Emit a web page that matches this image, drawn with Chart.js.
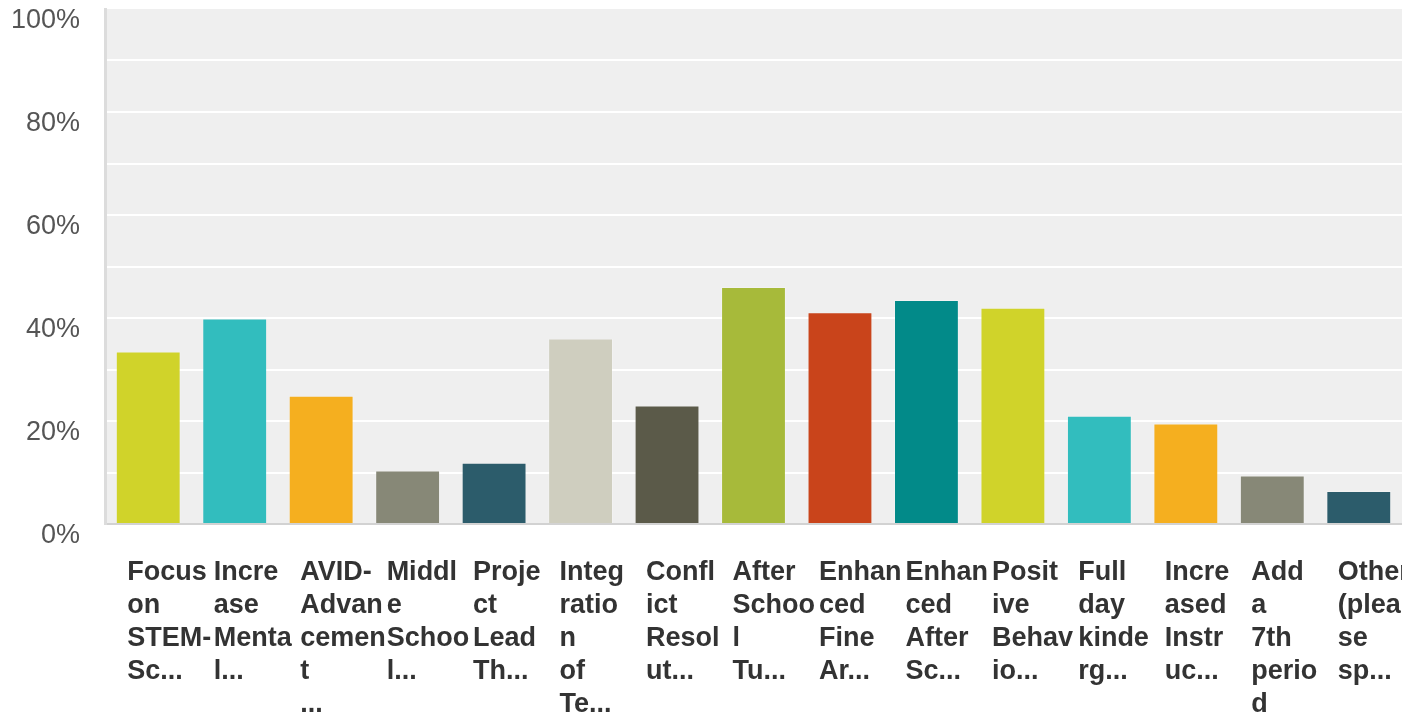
<!DOCTYPE html>
<html>
<head>
<meta charset="utf-8">
<script src="https://cdn.jsdelivr.net/npm/chart.js@4.4.0/dist/chart.umd.min.js"></script>
<style>
  html, body { margin: 0; padding: 0; background: #ffffff; }
  #wrap { position: relative; width: 1402px; height: 716px; }
</style>
</head>
<body>
<div id="wrap"><canvas id="c"></canvas></div>
<script>
const categories = [
  ["Focus","on","STEM-","Sc..."],
  ["Incre","ase","Menta","l..."],
  ["AVID-","Advan","cemen","t","..."],
  ["Middl","e","Schoo","l..."],
  ["Proje","ct","Lead","Th..."],
  ["Integ","ratio","n","of","Te..."],
  ["Confl","ict","Resol","ut..."],
  ["After","Schoo","l","Tu..."],
  ["Enhan","ced","Fine","Ar..."],
  ["Enhan","ced","After","Sc..."],
  ["Posit","ive","Behav","io..."],
  ["Full","day","kinde","rg..."],
  ["Incre","ased","Instr","uc..."],
  ["Add","a","7th","perio","d"],
  ["Other","(plea","se","sp..."]
];
const values = [33.5, 39.9, 24.9, 10.4, 11.9, 36.0, 23.0, 46.0, 41.1, 43.5, 42.0, 21.0, 19.5, 9.4, 6.4];
const barColors = [
  "#D0D32A", "#32BDBE", "#F5AF1F", "#878877", "#2C5C6B",
  "#CFCEBF", "#5B5A49", "#A7BA3A", "#C9441B", "#028A89",
  "#D0D32A", "#32BDBE", "#F5AF1F", "#878877", "#2C5C6B"
];
const yTickLabels = { 0: "0%", 20: "20%", 40: "40%", 60: "60%", 80: "80%", 100: "100%" };

const bgPlugin = {
  id: "plotBg",
  beforeDraw(chart) {
    const { ctx, chartArea: a } = chart;
    ctx.save();
    ctx.fillStyle = "#EFEFEF";
    ctx.fillRect(a.left, a.top, a.right - a.left, a.bottom - a.top);
    ctx.restore();
  }
};

new Chart(document.getElementById("c"), {
  type: "bar",
  data: {
    labels: categories,
    datasets: [{
      data: values,
      backgroundColor: barColors,
      borderColor: "rgba(255,255,255,0.2)",
      borderWidth: 1,
      barPercentage: 0.75,
      categoryPercentage: 1.0
    }]
  },
  plugins: [bgPlugin],
  options: {
    responsive: true,
    maintainAspectRatio: false,
    animation: false,
    layout: { padding: { top: 9, right: 0, left: 0, bottom: 0 } },
    plugins: { legend: { display: false }, tooltip: { enabled: false } },
    scales: {
      x: {
        offset: true,
        grid: { display: false, drawTicks: false },
        border: { display: true, color: "#D2D2D2", width: 2 },
        ticks: {
          autoSkip: false,
          maxRotation: 0,
          minRotation: 0,
          align: "start",
          labelOffset: -21,
          padding: 32,
          color: "#333333",
          font: { family: "'Liberation Sans', Arial, sans-serif", size: 27, weight: "bold", lineHeight: 1.222 }
        },
        afterFit(scale) {
          scale.height = 192;
          scale.paddingLeft = 0;
          scale.paddingRight = 0;
        }
      },
      y: {
        min: 0,
        max: 100,
        grid: {
          drawTicks: false,
          lineWidth: 2,
          color: (ctx) => (ctx.tick && (ctx.tick.value === 0 || ctx.tick.value === 100)) ? "rgba(0,0,0,0)" : "#FFFFFF"
        },
        border: { display: true, color: "#DCDCDC", width: 3 },
        ticks: {
          stepSize: 10,
          padding: 25,
          labelOffset: 12,
          color: "#555555",
          font: { family: "'Liberation Sans', Arial, sans-serif", size: 27 },
          callback: (v) => (yTickLabels[v] !== undefined ? yTickLabels[v] : "")
        },
        afterFit(scale) {
          scale.width = 105;
          scale.paddingTop = 0;
          scale.paddingBottom = 0;
        }
      }
    }
  }
});
</script>
</body>
</html>
